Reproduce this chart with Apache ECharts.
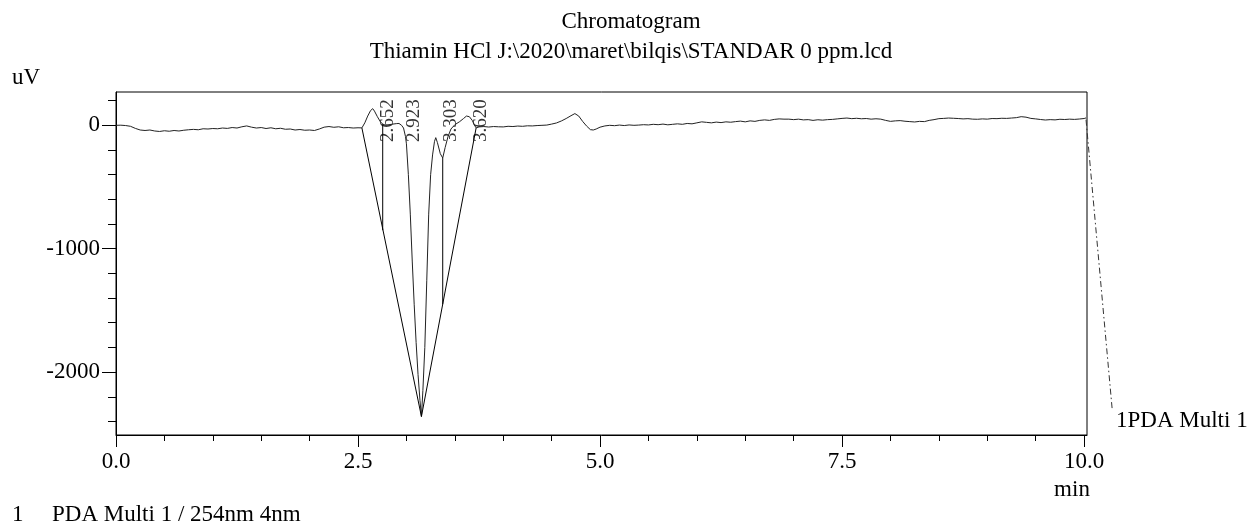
<!DOCTYPE html>
<html>
<head>
<meta charset="utf-8">
<script src="https://cdn.jsdelivr.net/npm/echarts@6/dist/echarts.min.js"></script>
<style>
html,body{margin:0;padding:0;background:#fff;}
#chart{width:1249px;height:525px;}
</style>
</head>
<body>
<div id="chart"></div>
<script>
// ---- Data (time in min, signal in uV) ----
const traceBefore = [
  [0.00,0],[0.05,1],[0.10,-2],[0.15,-8],[0.20,-25],[0.25,-38],[0.30,-42],[0.35,-38],[0.40,-46],[0.45,-50],
  [0.50,-44],[0.55,-48],[0.60,-42],[0.65,-46],[0.70,-40],[0.75,-36],[0.80,-33],[0.85,-36],[0.90,-28],[0.95,-30],
  [1.00,-26],[1.05,-28],[1.10,-22],[1.15,-25],[1.20,-18],[1.25,-22],[1.30,-12],[1.35,-5],[1.40,-15],[1.45,-22],
  [1.50,-18],[1.55,-26],[1.60,-20],[1.65,-28],[1.70,-24],[1.75,-32],[1.80,-30],[1.85,-38],[1.90,-34],[1.95,-40],
  [2.00,-38],[2.05,-42],[2.10,-30],[2.15,-15],[2.20,-10],[2.25,-16],[2.30,-12],[2.35,-20],[2.40,-18],[2.45,-22],
  [2.50,-20],[2.54,-21]
];
const tracePeaks = [
  [2.57,20],[2.60,75],[2.63,120],[2.652,135],[2.67,115],[2.70,70],[2.73,30],[2.755,10],[2.78,2],[2.82,5],
  [2.86,10],[2.90,14],[2.923,15],[2.95,0],[2.97,-22],[2.99,-90],[3.00,-150],[3.02,-400],[3.04,-720],[3.06,-1100],
  [3.08,-1450],[3.10,-1760],[3.12,-2020],[3.14,-2230],[3.155,-2360],[3.17,-2150],[3.19,-1800],[3.21,-1260],[3.23,-720],[3.25,-400],
  [3.27,-240],[3.29,-130],[3.303,-100],[3.32,-140],[3.35,-230],[3.375,-265],[3.40,-180],[3.43,-90],[3.46,-30],[3.50,5],
  [3.55,30],[3.59,55],[3.62,75],[3.65,70],[3.68,40],[3.70,5],[3.72,-21]
];
const traceAfter = [
  [3.75,-13],[3.80,-10],[3.85,-14],[3.90,-10],[3.95,-12],[4.00,-13],[4.05,-8],[4.10,-10],[4.15,-6],[4.20,-8],
  [4.25,-4],[4.30,-5],[4.35,-2],[4.40,0],[4.45,2],[4.50,10],[4.55,19],[4.60,35],[4.65,55],[4.70,78],
  [4.74,95],[4.78,75],[4.82,32],[4.86,-5],[4.90,-35],[4.93,-38],[4.96,-30],[5.00,-15],[5.05,-5],[5.10,0],
  [5.15,-3],[5.20,2],[5.25,-2],[5.30,3],[5.35,0],[5.40,2],[5.45,5],[5.50,3],[5.55,8],[5.60,5],
  [5.65,10],[5.70,4],[5.75,8],[5.80,12],[5.85,8],[5.90,15],[5.95,12],[6.00,20],[6.05,28],[6.10,24],
  [6.15,20],[6.20,26],[6.25,22],[6.30,28],[6.35,25],[6.40,30],[6.45,34],[6.50,28],[6.55,36],[6.60,32],
  [6.65,40],[6.70,44],[6.75,40],[6.80,48],[6.85,52],[6.90,50],[6.95,50],[7.00,46],[7.05,50],[7.10,44],
  [7.15,46],[7.20,40],[7.25,45],[7.30,42],[7.35,46],[7.40,48],[7.45,52],[7.50,56],[7.55,59],[7.60,54],
  [7.65,57],[7.70,53],[7.75,55],[7.80,50],[7.85,53],[7.90,50],[7.95,40],[8.00,32],[8.05,36],[8.10,38],
  [8.15,33],[8.20,30],[8.25,27],[8.30,32],[8.35,30],[8.40,40],[8.45,46],[8.50,54],[8.55,56],[8.60,59],
  [8.65,57],[8.70,55],[8.75,52],[8.80,54],[8.85,50],[8.90,49],[8.95,52],[9.00,50],[9.05,55],[9.10,54],
  [9.15,57],[9.20,56],[9.25,59],[9.30,62],[9.35,70],[9.40,66],[9.45,56],[9.50,52],[9.55,47],[9.60,43],
  [9.65,46],[9.70,44],[9.75,49],[9.80,47],[9.85,50],[9.90,48],[9.95,51],[10.00,55],[10.02,60]
];
// integration baselines and drop lines
const baselineLeft  = [[2.54,-21],[3.155,-2360]];
const baselineRight = [[3.155,-2360],[3.72,-21]];
const dropLine1 = [[2.755,10],[2.755,-850]];
const dropLine2 = [[3.375,-265],[3.375,-1450]];
// peak retention times
const peakTimes = [2.652, 2.923, 3.303, 3.620];
const peakLabelUV = -135;
// channel leader line (from trace end toward channel label)
const channelLeader = [[10.02,45],[10.29,-2300]];
// axis ticks
const xMajor = [0, 2.5, 5, 7.5, 10];
const xMinor = [0.5,1,1.5,2,3,3.5,4,4.5,5.5,6,6.5,7,8,8.5,9,9.5];
const yMajor = [0, -1000, -2000];
const yMinor = [200,-200,-400,-600,-800,-1200,-1400,-1600,-1800,-2200,-2400];

const FONT = '"Liberation Serif","Times New Roman",serif';
const chart = echarts.init(document.getElementById('chart'), null, {renderer:'canvas'});
const trace = traceBefore.concat(tracePeaks, traceAfter);

const xCommon = {type:'value', min:0, max:10.03, position:'bottom', splitLine:{show:false}};
const yCommon = {type:'value', min:-2510, max:270, position:'left', splitLine:{show:false}};

function segSeries(data, extra){
  return Object.assign({type:'line', data:data, symbol:'none', silent:true, animation:false,
    lineStyle:{color:'#000', width:1}}, extra||{});
}
function txt(text, x, y, align){
  return {type:'text', x:x, y:y, silent:true,
    style:{text:text, font:'23px '+FONT, fill:'#000', align:align||'left', verticalAlign:'middle'}};
}
function baseGraphics(){
  return [
    txt('Chromatogram', 631, 22, 'center'),
    txt('Thiamin HCl J:\\2020\\maret\\bilqis\\STANDAR 0 ppm.lcd', 631, 52, 'center'),
    txt('uV', 12, 78),
    txt('min', 1072, 490, 'center'),
    txt('1PDA Multi 1', 1116, 421),
    txt('1', 12, 515),
    txt('PDA Multi 1 / 254nm 4nm', 52, 515)
  ];
}

chart.setOption({
  animation:false,
  backgroundColor:'#fff',
  grid:{left:116, right:162, top:92, bottom:90, show:true, borderColor:'#000', borderWidth:1, containLabel:false},
  xAxis:[
    Object.assign({}, xCommon, {
      axisLine:{show:true, onZero:false, lineStyle:{color:'#000', width:1}},
      axisTick:{show:true, customValues:xMajor, length:12, lineStyle:{color:'#000'}},
      axisLabel:{show:true, customValues:xMajor, margin:15, color:'#000', fontFamily:FONT, fontSize:23,
        formatter:function(v){return Number(v).toFixed(1);}}
    }),
    Object.assign({}, xCommon, {
      axisLine:{show:false, onZero:false},
      axisTick:{show:true, customValues:xMinor, length:6, lineStyle:{color:'#000'}},
      axisLabel:{show:false}
    })
  ],
  yAxis:[
    Object.assign({}, yCommon, {
      axisLine:{show:true, onZero:false, lineStyle:{color:'#000', width:1}},
      axisTick:{show:true, customValues:yMajor, length:14, lineStyle:{color:'#000'}},
      axisLabel:{show:true, customValues:yMajor, margin:16, color:'#000', fontFamily:FONT, fontSize:23,
        formatter:function(v){return String(Math.round(Number(v)));}}
    }),
    Object.assign({}, yCommon, {
      axisLine:{show:false, onZero:false},
      axisTick:{show:true, customValues:yMinor, length:8, lineStyle:{color:'#000'}},
      axisLabel:{show:false}
    })
  ],
  graphic: baseGraphics(),
  series:[
    segSeries(trace, {lineStyle:{color:'#222', width:1}}),
    segSeries(baselineLeft),
    segSeries(baselineRight),
    segSeries(dropLine1),
    segSeries(dropLine2),
    {
      type:'scatter', silent:true, animation:false, symbolSize:0,
      data: peakTimes.map(function(t){return [t, peakLabelUV];}),
      label:{show:true, position:[15,0], rotate:90, align:'left', verticalAlign:'middle',
        fontFamily:FONT, fontSize:19, color:'#000',
        formatter:function(p){return p.value[0].toFixed(3);}}
    }
  ]
});

// leader line drawn through the chart's own coordinate conversion
const leaderPts = channelLeader.map(function(p){ return chart.convertToPixel({gridIndex:0}, p); });
const g = baseGraphics();
g.push({type:'polyline', silent:true, shape:{points:leaderPts},
  style:{stroke:'#333', lineWidth:1, lineDash:[6,3,1.5,3], fill:null}});
chart.setOption({graphic: g});
</script>
</body>
</html>
